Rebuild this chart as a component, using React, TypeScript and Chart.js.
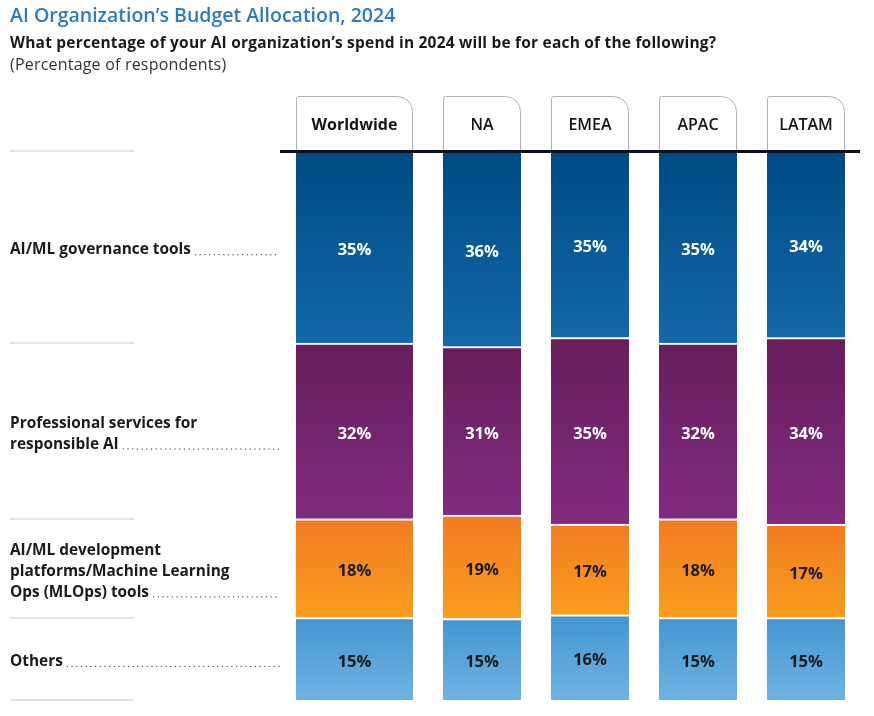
import React, { useEffect, useRef } from 'react';
import { Chart, registerables } from 'chart.js';

Chart.register(...registerables);

// ---- data ----
const regions = ['Worldwide', 'NA', 'EMEA', 'APAC', 'LATAM'];
const categoryLines = [
  ['AI/ML governance tools'],
  ['Professional services for', 'responsible AI'],
  ['AI/ML development', 'platforms/Machine Learning', 'Ops (MLOps) tools'],
  ['Others'],
];
const governance = [35, 36, 35, 35, 34];
const professional = [32, 31, 35, 32, 34];
const mlops = [18, 19, 17, 18, 17];
const others = [15, 15, 16, 15, 15];

// ---- styles / layout ----
const FONT = '"Open Sans", sans-serif';
const W = 874;
const H = 716;
const PLOT_LEFT = 296;
const PLOT_RIGHT = 846;
const PLOT_TOP = 151;
const PLOT_BOTTOM = 700;
const WIDE = 117;
const NARROW = 78;
const GAP = 30;

// series top-to-bottom (as listed), with gradient colours and label colour
const seriesDefs = [
  { values: governance, top: '#004a83', bottom: '#1268a9', text: '#ffffff' },
  { values: professional, top: '#671e5b', bottom: '#802b80', text: '#ffffff' },
  { values: mlops, top: '#f27b22', bottom: '#f99e1d', text: '#1a1a1a' },
  { values: others, top: '#4495d1', bottom: '#6fb3e2', text: '#1a1a1a' },
];

export default function App() {
  const ref = useRef<HTMLCanvasElement | null>(null);

  useEffect(() => {
    if (!ref.current) return;

    // x centres in plot units (1 unit = 1 px of plot width)
    let pos = 0;
    const centers = regions.map((_, i) => {
      const w = i === 0 ? WIDE : NARROW;
      const c = pos + w / 2;
      pos += w + GAP;
      return c;
    });
    const widths = regions.map((_, i) => (i === 0 ? WIDE : NARROW));

    const totals = regions.map((_, j) => seriesDefs.reduce((s, d) => s + d.values[j], 0));
    const norm = seriesDefs.map((d) => d.values.map((v, j) => (v / totals[j]) * 100));

    // cumulative start (bottom-first stacking: last series at bottom)
    const starts = seriesDefs.map((_, k) =>
      regions.map((__, j) => {
        let s = 0;
        for (let m = k + 1; m < seriesDefs.length; m++) s += norm[m][j];
        return s;
      })
    );

    const datasets: any[] = [];
    const info: { k: number; idx: number[] }[] = [];
    for (let k = seriesDefs.length - 1; k >= 0; k--) {
      const def = seriesDefs[k];
      for (const group of [[0], [1, 2, 3, 4]]) {
        info.push({ k, idx: group });
        datasets.push({
          stack: 'all',
          data: group.map((j) => ({ x: centers[j], y: norm[k][j] })),
          barThickness: group[0] === 0 ? WIDE : NARROW,
          borderWidth: { top: 2, bottom: 0, left: 0, right: 0 },
          borderColor: '#ffffff',
          borderSkipped: false,
          backgroundColor: (c: any) => {
            const chart = c.chart;
            const ys = chart.scales && chart.scales.y;
            if (!ys || !chart.chartArea || c.dataIndex == null) return def.top;
            const j = group[c.dataIndex];
            if (j == null) return def.top;
            const s = starts[k][j];
            const t = ys.getPixelForValue(s + norm[k][j]);
            const b = ys.getPixelForValue(s);
            const g = chart.ctx.createLinearGradient(0, t, 0, b);
            g.addColorStop(0, def.top);
            g.addColorStop(1, def.bottom);
            return g;
          },
        });
      }
    }

    const decor = {
      id: 'decor',
      afterDatasetsDraw(chart: any) {
        const ctx = chart.ctx as CanvasRenderingContext2D;
        const xs = chart.scales.x;
        const ys = chart.scales.y;
        ctx.save();

        // value labels
        ctx.textAlign = 'center';
        ctx.textBaseline = 'middle';
        ctx.font = `bold 16.5px ${FONT}`;
        chart.data.datasets.forEach((_: any, di: number) => {
          const meta = chart.getDatasetMeta(di);
          const inf = info[di];
          meta.data.forEach((el: any, n: number) => {
            const j = inf.idx[n];
            const def = seriesDefs[inf.k];
            ctx.fillStyle = def.text;
            ctx.fillText(`${def.values[j]}%`, el.x, (el.y + el.base) / 2 + 3);
          });
        });

        // header tabs
        regions.forEach((name, j) => {
          const cx = xs.getPixelForValue(centers[j]);
          const l = cx - widths[j] / 2 + 0.5;
          const r = cx + widths[j] / 2 - 0.5;
          const t = 96.5;
          const b = 151;
          const rad = 15;
          ctx.beginPath();
          ctx.moveTo(l, b);
          ctx.lineTo(l, t + 2);
          ctx.quadraticCurveTo(l, t, l + 2, t);
          ctx.lineTo(r - rad, t);
          ctx.arcTo(r, t, r, t + rad, rad);
          ctx.lineTo(r, b);
          ctx.fillStyle = '#ffffff';
          ctx.fill();
          ctx.strokeStyle = '#b3b3b3';
          ctx.lineWidth = 1;
          ctx.stroke();
          ctx.fillStyle = '#141414';
          ctx.font = `${j === 0 ? 'bold' : '600'} 16px ${FONT}`;
          ctx.textAlign = 'center';
          ctx.textBaseline = 'middle';
          ctx.fillText(name, cx, 125);
        });

        // black rule
        ctx.beginPath();
        ctx.moveTo(280, 151.5);
        ctx.lineTo(860, 151.5);
        ctx.strokeStyle = '#0b0f1a';
        ctx.lineWidth = 3;
        ctx.stroke();

        // left separators & category labels
        const wwStarts = seriesDefs.map((_, k) => starts[k][0]);
        const bounds = [ys.getPixelForValue(100)];
        seriesDefs.forEach((_, k) => bounds.push(ys.getPixelForValue(wwStarts[k])));
        ctx.strokeStyle = '#dcdcdc';
        ctx.lineWidth = 1.5;
        bounds.forEach((y, i) => {
          const yy = i === 0 ? 151 : Math.round(y);
          ctx.beginPath();
          ctx.moveTo(10, yy);
          ctx.lineTo(134, yy);
          ctx.stroke();
        });

        ctx.font = `bold 15.4px ${FONT}`;
        ctx.textAlign = 'left';
        ctx.textBaseline = 'middle';
        categoryLines.forEach((lines, k) => {
          const top = ys.getPixelForValue(wwStarts[k] + norm[k][0]);
          const bot = ys.getPixelForValue(wwStarts[k]);
          const cy = (top + bot) / 2 + 3;
          const n = lines.length;
          lines.forEach((line, i) => {
            const y = cy + (i - (n - 1) / 2) * 21;
            ctx.fillStyle = '#1a1a1a';
            ctx.fillText(line, 10, y);
            if (i === n - 1) {
              const w = ctx.measureText(line).width;
              ctx.fillStyle = '#555555';
              for (let x = 10 + w + 4; x <= 279; x += 4.7) {
                ctx.fillRect(x, y + 4, 1.2, 1.2);
              }
            }
          });
        });

        ctx.restore();
      },
    };

    const chart = new Chart(ref.current, {
      type: 'bar',
      data: { datasets },
      options: {
        animation: false,
        responsive: false,
        maintainAspectRatio: false,
        layout: {
          padding: { left: PLOT_LEFT, right: W - PLOT_RIGHT, top: PLOT_TOP, bottom: H - PLOT_BOTTOM },
        },
        scales: {
          x: { type: 'linear', stacked: true, min: 0, max: PLOT_RIGHT - PLOT_LEFT, display: false, offset: false },
          y: { stacked: true, min: 0, max: 100, display: false },
        },
        plugins: { legend: { display: false }, tooltip: { enabled: false }, title: { display: false } },
      },
      plugins: [decor],
    });
    return () => chart.destroy();
  }, []);

  return (
    <div style={{ position: 'absolute', left: 0, top: 0, width: W, height: H, background: '#fff', fontFamily: FONT }}>
      <canvas ref={ref} width={W} height={H} style={{ position: 'absolute', left: 0, top: 0, width: W, height: H }} />
      <div style={{ position: 'absolute', left: 10, top: 3, fontSize: 19.5, fontWeight: 600, color: '#2b7bbf', whiteSpace: 'nowrap', lineHeight: '24px' }}>
        AI Organization’s Budget Allocation, 2024
      </div>
      <div style={{ position: 'absolute', left: 10, top: 31, fontSize: 15.5, fontWeight: 'bold', letterSpacing: '0.2px', color: '#1a1a1a', whiteSpace: 'nowrap', lineHeight: '22px' }}>
        What percentage of your AI organization’s spend in 2024 will be for each of the following?
      </div>
      <div style={{ position: 'absolute', left: 10, top: 53, fontSize: 16, letterSpacing: '0.2px', color: '#333', whiteSpace: 'nowrap', lineHeight: '22px' }}>
        (Percentage of respondents)
      </div>
    </div>
  );
}
